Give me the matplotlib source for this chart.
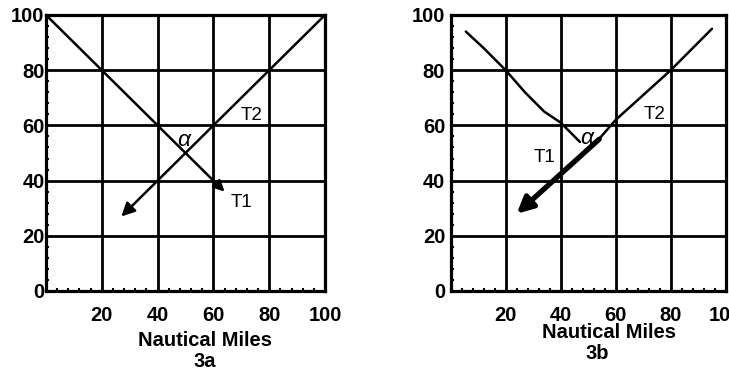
import matplotlib
matplotlib.use("Agg")
import matplotlib.pyplot as plt
import numpy as np

plt.rcParams['font.family'] = ['Liberation Sans', 'DejaVu Sans']
plt.rcParams['font.weight'] = 'bold'

# grid ticks
x_ticks = [20, 40, 60, 80, 100]
y_ticks = [0, 20, 40, 60, 80, 100]

# Panel 3a tracks
a_t1_x = [0, 64]
a_t1_y = [100, 36]
a_t2_x = [100, 27]
a_t2_y = [100, 27]

# Panel 3b tracks
b_t1_x = [5.5, 12, 20, 27, 34, 40, 44, 47]
b_t1_y = [94, 88, 80, 72, 65, 61, 57, 54]
b_t2_x = [95, 80, 60, 53]
b_t2_y = [95, 80, 62, 54]
b_arrow_x = [54, 24]
b_arrow_y = [55, 28]

fig = plt.figure(figsize=(7.29, 3.73), dpi=100)
ax_a = fig.add_axes([46 / 729, 1 - 291 / 373, 279 / 729, 276 / 373])
ax_b = fig.add_axes([450.7 / 729, 1 - 291 / 373, 275 / 729, 276 / 373])

FS = 14.5


def style(ax, ypad):
    ax.set_xlim(0, 100)
    ax.set_ylim(0, 100)
    ax.set_xticks(x_ticks)
    ax.set_yticks(y_ticks)
    ax.set_xticklabels([str(v) for v in x_ticks], fontsize=FS)
    ax.set_yticklabels([str(v) for v in y_ticks], fontsize=FS)
    ax.set_xticks(np.arange(0, 101, 4), minor=True)
    ax.set_yticks(np.arange(0, 101, 4), minor=True)
    ax.tick_params(axis='x', which='major', length=0, pad=11)
    ax.tick_params(axis='y', which='major', length=0, pad=ypad)
    ax.tick_params(which='minor', direction='in', length=2.5, width=1.5,
                   top=False, right=False)
    for s in ax.spines.values():
        s.set_linewidth(2.3)
    ax.grid(True, which='major', color='black', linewidth=2.0)
    ax.set_axisbelow(True)


style(ax_a, 1)
style(ax_b, 4)

arrow_kw = dict(arrowstyle='-|>', color='black', shrinkA=0, shrinkB=0)
lbl_kw = dict(fontsize=FS - 1, fontweight='normal', va='center')
alpha_kw = dict(fontsize=FS + 2, fontweight='normal', fontstyle='italic',
                ha='center', va='center')

# 3a
ax_a.annotate('', xy=(a_t1_x[1], a_t1_y[1]), xytext=(a_t1_x[0], a_t1_y[0]),
              arrowprops=dict(lw=1.8, mutation_scale=16, **arrow_kw))
ax_a.annotate('', xy=(a_t2_x[1], a_t2_y[1]), xytext=(a_t2_x[0], a_t2_y[0]),
              arrowprops=dict(lw=1.8, mutation_scale=20, **arrow_kw))
ax_a.text(66, 32, 'T1', ha='left', **lbl_kw)
ax_a.text(73.5, 63.5, 'T2', ha='center', **lbl_kw)
ax_a.text(49.5, 55, 'α', **alpha_kw)
ax_a.text(0.57, -0.178, 'Nautical Miles', transform=ax_a.transAxes,
          fontsize=FS, ha='center', va='center')
ax_a.text(0.57, -0.257, '3a', transform=ax_a.transAxes,
          fontsize=FS, ha='center', va='center')

# 3b
ax_b.plot(b_t1_x, b_t1_y, color='black', lw=1.8, solid_capstyle='round')
ax_b.plot(b_t2_x, b_t2_y, color='black', lw=1.8, solid_capstyle='round')
ax_b.annotate('', xy=(b_arrow_x[1], b_arrow_y[1]), xytext=(b_arrow_x[0], b_arrow_y[0]),
              arrowprops=dict(lw=3.8, mutation_scale=24, **arrow_kw))
ax_b.text(34, 48.5, 'T1', ha='center', **lbl_kw)
ax_b.text(74, 64, 'T2', ha='center', **lbl_kw)
ax_b.text(49.5, 55.5, 'α', **alpha_kw)
ax_b.text(0.576, -0.152, 'Nautical Miles', transform=ax_b.transAxes,
          fontsize=FS, ha='center', va='center')
ax_b.text(0.532, -0.225, '3b', transform=ax_b.transAxes,
          fontsize=FS, ha='center', va='center')

fig.savefig('out.png', dpi=100)
